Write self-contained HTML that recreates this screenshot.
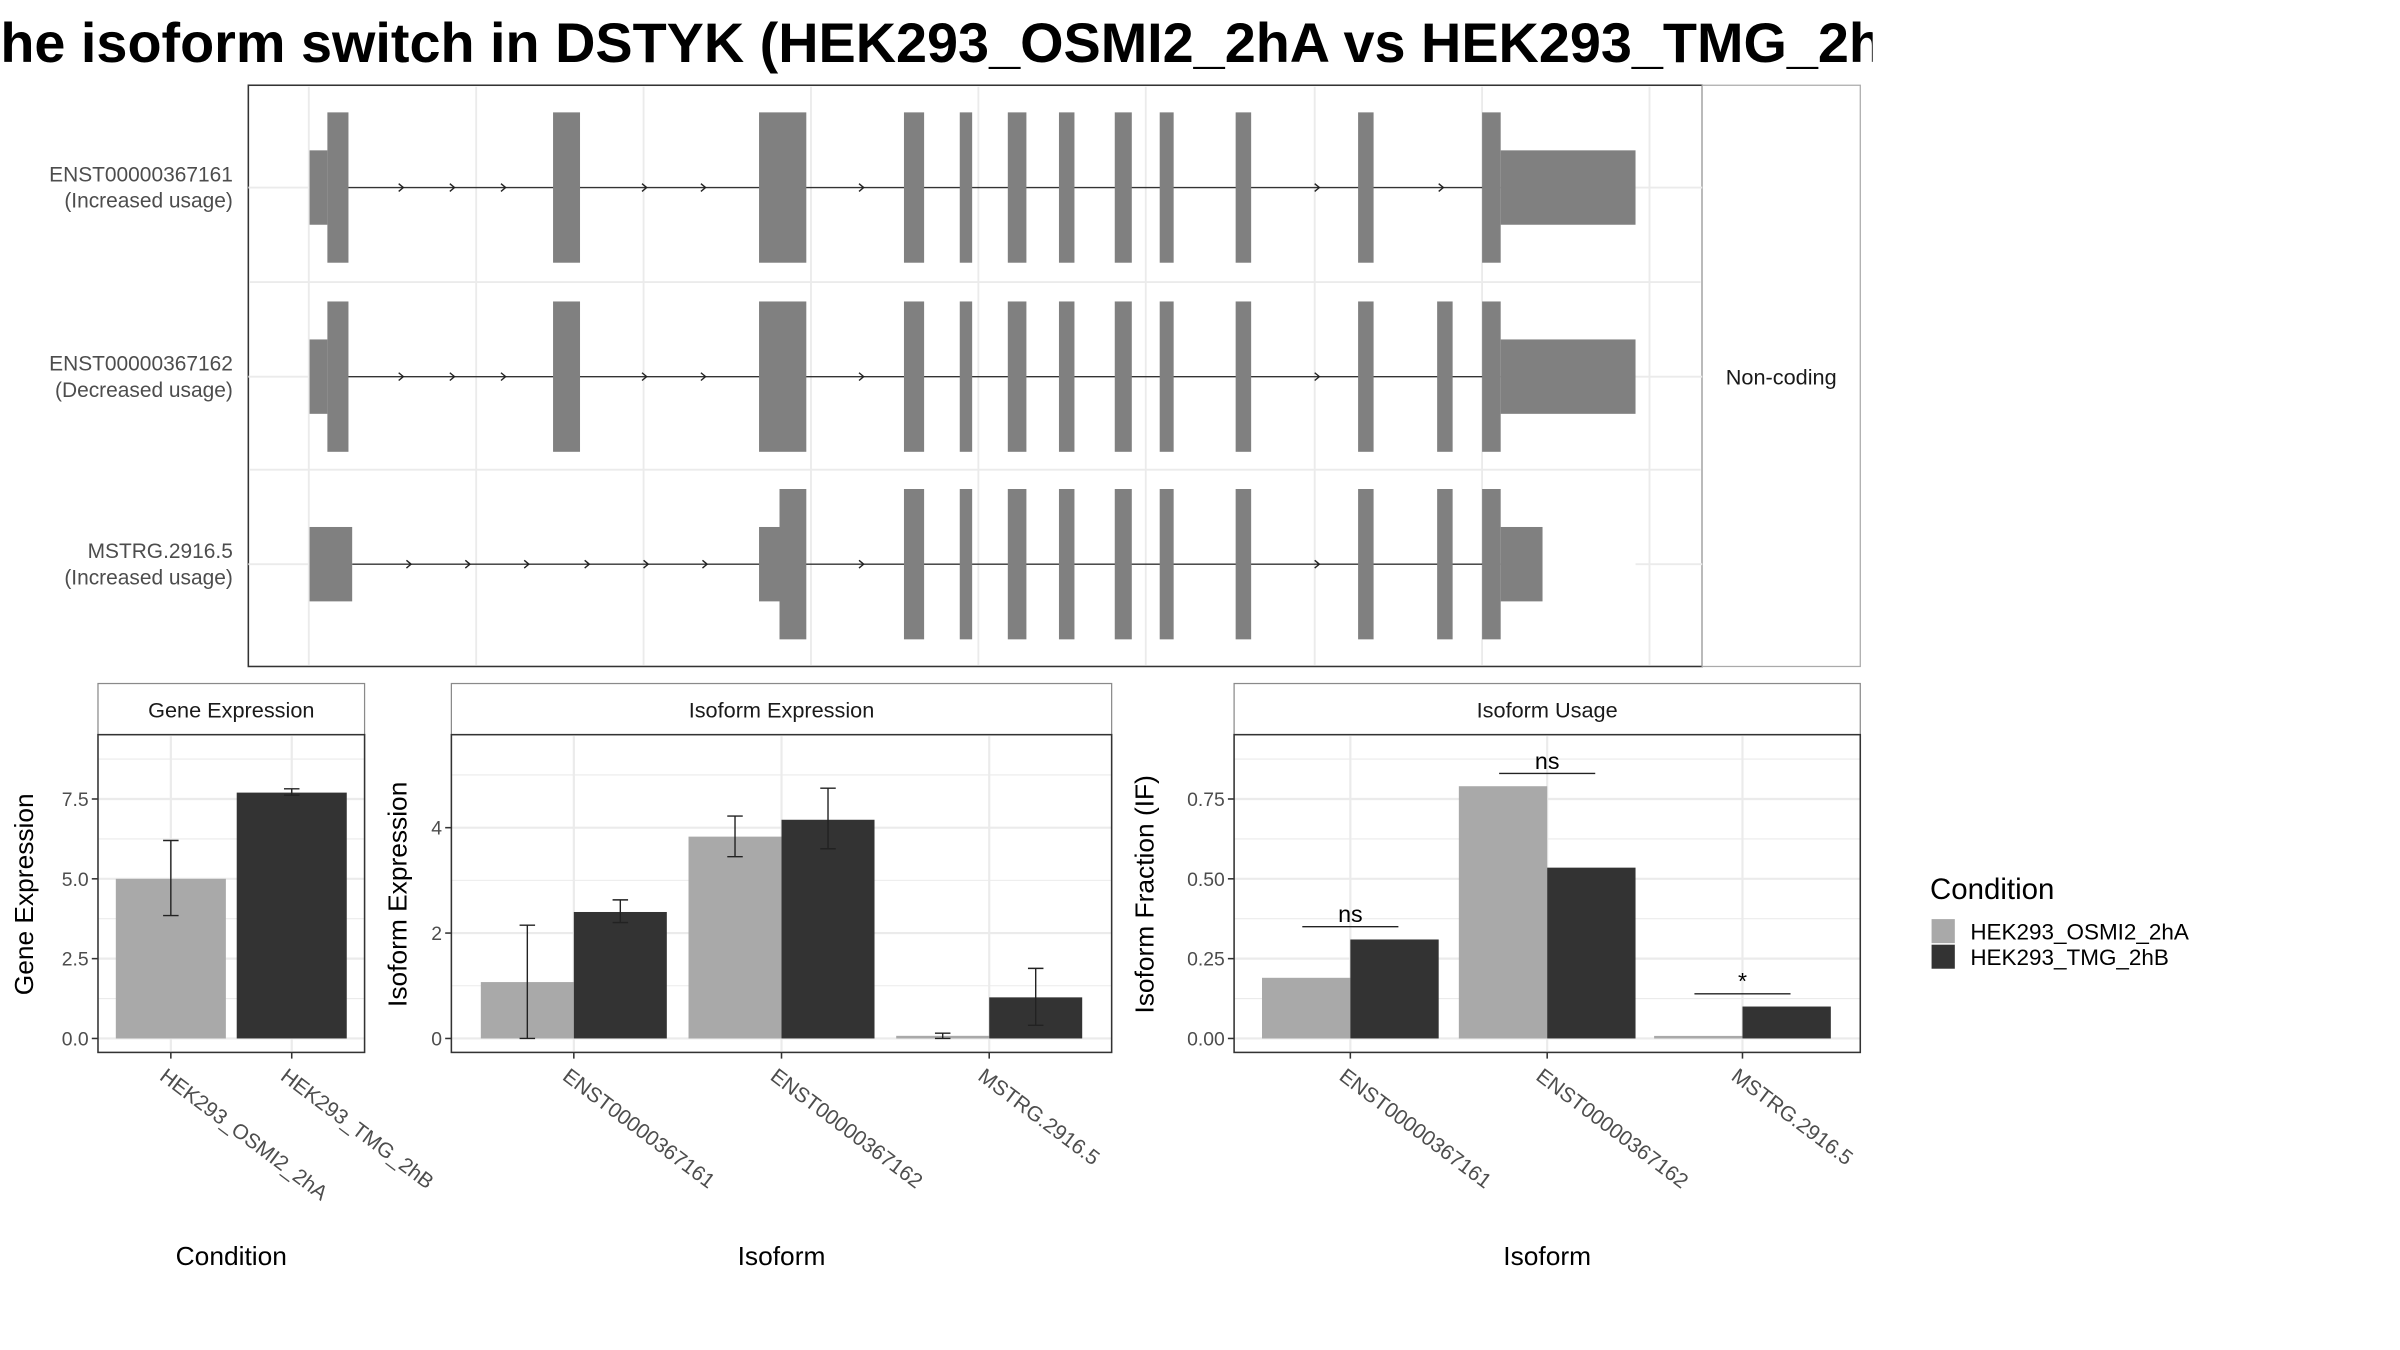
<!DOCTYPE html>
<html><head><meta charset="utf-8"><style>
html,body{margin:0;padding:0;background:#fff;}
svg{display:block;font-family:"Liberation Sans",sans-serif;}
</style></head><body>
<svg id="fig" width="2400" height="1350" viewBox="0 0 1548 871" xmlns="http://www.w3.org/2000/svg">
<defs><clipPath id="tclip"><rect x="0" y="0" width="1208" height="60"/></clipPath></defs>
<text x="-22" y="40" font-size="36" font-weight="bold" fill="#000" clip-path="url(#tclip)">The isoform switch in DSTYK (HEK293_OSMI2_2hA vs HEK293_TMG_2hB)</text>
<g id="tx"></g>
<g id="ge"></g>
<g id="ie"></g>
<g id="iu"></g>
<g id="lg"></g>
</svg>
<script>
// ---- data ----
const conditions = ["HEK293_OSMI2_2hA","HEK293_TMG_2hB"];
const isoforms = ["ENST00000367161","ENST00000367162","MSTRG.2916.5"];
const geneExpr = [5.0, 7.7];
const geneErrLo = [3.85, 7.62];
const geneErrHi = [6.2, 7.82];
const geneTicks = [0, 2.5, 5.0, 7.5];
const geneTickLabels = ["0.0","2.5","5.0","7.5"];
const isoExprA = [1.07, 3.83, 0.05];
const isoExprB = [2.4, 4.15, 0.78];
const isoErrLoA = [0, 3.45, 0];
const isoErrHiA = [2.15, 4.22, 0.1];
const isoErrLoB = [2.2, 3.6, 0.25];
const isoErrHiB = [2.63, 4.75, 1.33];
const isoTicks = [0, 2, 4];
const isoTickLabels = ["0","2","4"];
const usageA = [0.19, 0.79, 0.008];
const usageB = [0.31, 0.535, 0.10];
const sigLevel = [0.35, 0.83, 0.14];
const sigLabel = ["ns","ns","*"];
const usageTicks = [0, 0.25, 0.5, 0.75];
const usageTickLabels = ["0.00","0.25","0.50","0.75"];

const NS="http://www.w3.org/2000/svg";
function el(parent, tag, attrs, text){
  const e=document.createElementNS(NS,tag);
  for(const k in attrs) e.setAttribute(k,attrs[k]);
  if(text!==undefined) e.textContent=text;
  parent.appendChild(e); return e;
}
const COLA="#a9a9a9", COLB="#333333", GRID="#ebebeb";

// ---- transcript panel ----
const tx=document.getElementById('tx');
let r=el(tx,'rect',{x:160,y:55,width:938,height:375,fill:'#fff',stroke:'#333','stroke-width':1});


[199,307,415,523,631,739,848,956,1064].forEach(x=>{
  const l=el(tx,'line',{x1:x,x2:x,y1:56,y2:429,stroke:GRID,'stroke-width':1.2});
  
  
});
[182,303].forEach(y=>{
  const l=el(tx,'line',{x1:161,x2:1097,y1:y,y2:y,stroke:GRID,'stroke-width':1.2});
  
  
});
const strip=el(tx,'rect',{x:1098,y:55,width:102,height:375,fill:'#fff',stroke:'#aaa','stroke-width':0.8});


const nc=el(tx,'text',{x:1149,y:248,'font-size':14,'text-anchor':'middle',fill:'#1a1a1a'},'Non-coding');


const rowsY=[121,243,364];
const rowLabels=[["ENST00000367161","(Increased usage)"],["ENST00000367162","(Decreased usage)"],["MSTRG.2916.5","(Increased usage)"]];
const commonExons=[[583,596],[619,627],[650,662],[683,693],[719,730],[748,757],[797,807],[876,886]];
const rowExons=[
  {cds:[[211,224.6],[356.6,374],[489.5,520],...commonExons,[956,968]],utr:[[199.5,211],[968,1055]]},
  {cds:[[211,224.6],[356.6,374],[489.5,520],...commonExons,[927,937],[956,968]],utr:[[199.5,211],[968,1055]]},
  {cds:[[502.7,520],...commonExons,[927,937],[956,968]],utr:[[199.5,227],[489.5,502.7],[968,995]]}
];
const rowArrows=[
  [260,293,326,360,417,455,493,557,588,851,885,931,966],
  [260,293,326,360,417,455,493,557,588,851,885],
  [265,303,341,380,418,456,493,557,588,851,885]
];
const rowStart=[224,224,227], rowEnd=[968,968,968];
rowsY.forEach((y,i)=>{
  const g=el(tx,'g',{});
  
  
  el(g,'line',{x1:160,x2:200,y1:y,y2:y,stroke:GRID,'stroke-width':1.2});
  el(g,'line',{x1:1055,x2:1098,y1:y,y2:y,stroke:GRID,'stroke-width':1.2});
  el(g,'line',{x1:rowStart[i],x2:rowEnd[i],y1:y,y2:y,stroke:'#333','stroke-width':0.9});
  rowArrows[i].forEach(ax=>{
    el(g,'path',{d:`M${ax-3},${y-2.5} L${ax},${y} L${ax-3},${y+2.5}`,fill:'none',stroke:'#222','stroke-width':0.9});
  });
  rowExons[i].utr.forEach(e=>{
    el(g,'rect',{x:e[0],y:y-24,width:e[1]-e[0],height:48,fill:'#808080'});
  });
  rowExons[i].cds.forEach(e=>{
    el(g,'rect',{x:e[0],y:y-48.5,width:e[1]-e[0],height:97,fill:'#808080'});
  });
  const t=el(tx,'text',{x:150,y:y-4,'font-size':13.5,'text-anchor':'end',fill:'#4d4d4d'});
  
  
  el(t,'tspan',{x:150,dy:0},rowLabels[i][0]);
  el(t,'tspan',{x:150,dy:17},rowLabels[i][1]);
});

// ---- generic bar panel ----
const Y0=670;
function panel(gid, x0, x1, title, ymax, pxPerUnit, ticks, tickLabels, minorStep, ytitle, ytitleX, xtitle, cats, catX){
  const g=document.getElementById(gid);
  const yS=v=>Y0-v*pxPerUnit;
  const s=el(g,'rect',{x:x0,y:441,width:x1-x0,height:33,fill:'#fff',stroke:'#8a8a8a','stroke-width':0.8});
  
  
  const st=el(g,'text',{x:(x0+x1)/2,y:463,'font-size':14,'text-anchor':'middle',fill:'#1a1a1a'},title);
  
  
  el(g,'rect',{x:x0,y:474,width:x1-x0,height:205,fill:'#fff'});
  for(let v=minorStep; yS(v)>476; v+=minorStep*2){
    el(g,'line',{x1:x0,x2:x1,y1:yS(v),y2:yS(v),stroke:GRID,'stroke-width':0.7});
  }
  for(let k=0;yS(k*minorStep*2)>476;k++){
    const v=k*minorStep*2;
    const l=el(g,'line',{x1:x0,x2:x1,y1:yS(v),y2:yS(v),stroke:GRID,'stroke-width':1.4});
    
    
  }
  catX.forEach(cx=>{ el(g,'line',{x1:cx,x2:cx,y1:475,y2:678,stroke:GRID,'stroke-width':1.4}); });
  ticks.forEach((v,i)=>{
    el(g,'line',{x1:x0-4,x2:x0,y1:yS(v),y2:yS(v),stroke:'#333','stroke-width':1});
    const t=el(g,'text',{x:x0-6,y:yS(v)+4.5,'font-size':12.5,'text-anchor':'end',fill:'#4d4d4d'},tickLabels[i]);
    
    
  });
  cats.forEach((c,i)=>{
    el(g,'line',{x1:catX[i],x2:catX[i],y1:679,y2:683,stroke:'#333','stroke-width':1});
    const t=el(g,'text',{x:catX[i]-8,y:696,'font-size':13.5,fill:'#4d4d4d',transform:`rotate(37 ${catX[i]-8} 696)`},c);
    
    
  });
  const yt=el(g,'text',{x:ytitleX,y:577,'font-size':17,'text-anchor':'middle',fill:'#000',transform:`rotate(-90 ${ytitleX} 577)`},ytitle);
  
  
  const xt=el(g,'text',{x:(x0+x1)/2,y:816,'font-size':17,'text-anchor':'middle',fill:'#000'},xtitle);
  
  
  return {g,yS};
}
function bar(g,x,w,v,yS,col,name){
  const b=el(g,'rect',{x:x,y:yS(v),width:w,height:Y0-yS(v),fill:col});
  
  
}
function err(g,cx,lo,hi,yS){
  const e=el(g,'path',{d:`M${cx-5},${yS(hi)} H${cx+5} M${cx},${yS(hi)} V${yS(lo)} M${cx-5},${yS(lo)} H${cx+5}`,stroke:'#222','stroke-width':0.9,fill:'none'});
  
  
}
function frame(g,x0,x1){ el(g,'rect',{x:x0,y:474,width:x1-x0,height:205,fill:'none',stroke:'#333','stroke-width':1}); }

// Gene expression
{
  const geX=[110,188];
  const {g,yS}=panel('ge',63,235,'Gene Expression',9,20.6,geneTicks,geneTickLabels,1.25,'Gene Expression',21,'Condition',conditions,geX);
  const cols=[COLA,COLB];
  geneExpr.forEach((v,i)=>{ bar(g,geX[i]-35.5,71,v,yS,cols[i],'bar-'+conditions[i]); });
  geneExpr.forEach((v,i)=>{ err(g,geX[i],geneErrLo[i],geneErrHi[i],yS); });
  frame(g,63,235);
}
// Isoform expression
{
  const cx=[370,504,638];
  const {g,yS}=panel('ie',291,717,'Isoform Expression',6,34,isoTicks,isoTickLabels,1,'Isoform Expression',262,'Isoform',isoforms,cx);
  isoforms.forEach((c,i)=>{
    bar(g,cx[i]-60,60,isoExprA[i],yS,COLA,'bar-A-'+c);
    bar(g,cx[i],60,isoExprB[i],yS,COLB,'bar-B-'+c);
  });
  isoforms.forEach((c,i)=>{
    err(g,cx[i]-30,isoErrLoA[i],isoErrHiA[i],yS);
    err(g,cx[i]+30,isoErrLoB[i],isoErrHiB[i],yS);
  });
  frame(g,291,717);
}
// Isoform usage
{
  const cx=[871,998,1124];
  const {g,yS}=panel('iu',796,1200,'Isoform Usage',0.9,206,usageTicks,usageTickLabels,0.125,'Isoform Fraction (IF)',744,'Isoform',isoforms,cx);
  isoforms.forEach((c,i)=>{
    bar(g,cx[i]-57,57,usageA[i],yS,COLA,'bar-A-'+c);
    bar(g,cx[i],57,usageB[i],yS,COLB,'bar-B-'+c);
  });
  isoforms.forEach((c,i)=>{
    const l=el(g,'line',{x1:cx[i]-31,x2:cx[i]+31,y1:yS(sigLevel[i]),y2:yS(sigLevel[i]),stroke:'#222','stroke-width':0.9});
    
    
    const t=el(g,'text',{x:cx[i],y:yS(sigLevel[i])-3,'font-size':15,'text-anchor':'middle',fill:'#000'},sigLabel[i]);
    
    
  });
  frame(g,796,1200);
}
// Legend
{
  const g=document.getElementById('lg');
  const t=el(g,'text',{x:1245,y:580,'font-size':19,fill:'#000'},'Condition');
  
  
  const cols=[COLA,COLB];
  conditions.forEach((c,i)=>{
    const k=el(g,'rect',{x:1246,y:593+i*16.5,width:15,height:15.5,fill:cols[i]});
    
    
    const lt=el(g,'text',{x:1271,y:606+i*16.5,'font-size':14.5,fill:'#000'},c);
    
    
  });
}
</script>
</body></html>
